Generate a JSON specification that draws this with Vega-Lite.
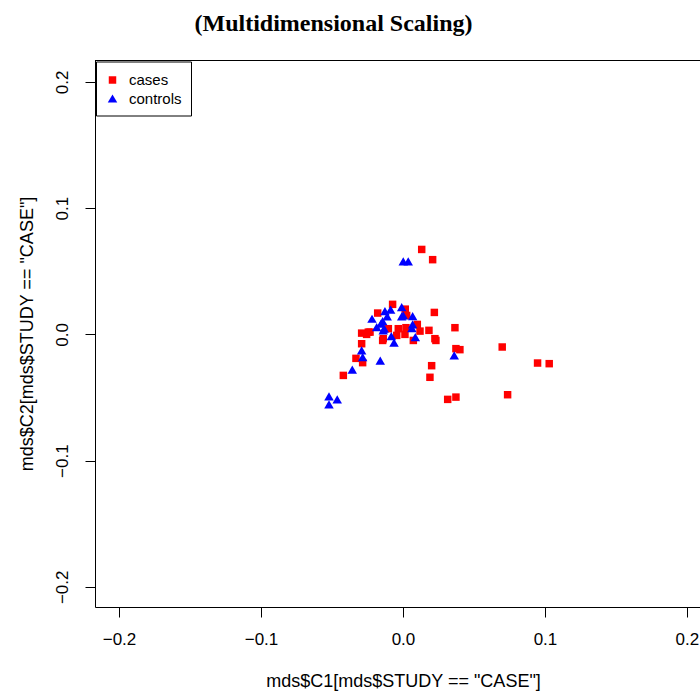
{
  "$schema": "https://vega.github.io/schema/vega-lite/v6.json",
  "width": 605,
  "height": 547,
  "autosize": {"type": "none"},
  "padding": {"left": 95, "top": 60, "right": 0, "bottom": 84},
  "background": "white",
  "title": {
    "text": "(Multidimensional Scaling)",
    "font": "Liberation Serif",
    "fontSize": 24,
    "fontWeight": "bold",
    "color": "black",
    "anchor": "middle",
    "dx": -64,
    "offset": 24
  },
  "config": {
    "view": {"stroke": null},
    "axis": {
      "grid": false,
      "domainColor": "black",
      "tickColor": "black",
      "labelColor": "black",
      "titleColor": "black",
      "labelFont": "Liberation Sans",
      "titleFont": "Liberation Sans",
      "labelFontSize": 17,
      "titleFontSize": 18,
      "titleFontWeight": "normal",
      "tickSize": 10
    }
  },
  "data": {
    "values": [
      {"x": 0.0132, "y": 0.0673, "group": "cases"},
      {"x": 0.0209, "y": 0.0592, "group": "cases"},
      {"x": -0.0073, "y": 0.0238, "group": "cases"},
      {"x": -0.0178, "y": 0.0169, "group": "cases"},
      {"x": 0.0016, "y": 0.0200, "group": "cases"},
      {"x": 0.0221, "y": 0.0174, "group": "cases"},
      {"x": 0.0026, "y": 0.0150, "group": "cases"},
      {"x": -0.0103, "y": 0.0045, "group": "cases"},
      {"x": -0.0033, "y": 0.0045, "group": "cases"},
      {"x": 0.0101, "y": 0.0079, "group": "cases"},
      {"x": 0.0120, "y": 0.0026, "group": "cases"},
      {"x": 0.0183, "y": 0.0032, "group": "cases"},
      {"x": 0.0021, "y": 0.0053, "group": "cases"},
      {"x": 0.0366, "y": 0.0053, "group": "cases"},
      {"x": -0.0291, "y": 0.0010, "group": "cases"},
      {"x": -0.0256, "y": 0.0000, "group": "cases"},
      {"x": -0.0232, "y": 0.0018, "group": "cases"},
      {"x": -0.0044, "y": -0.0008, "group": "cases"},
      {"x": 0.0014, "y": 0.0000, "group": "cases"},
      {"x": -0.0143, "y": -0.0048, "group": "cases"},
      {"x": 0.0073, "y": -0.0048, "group": "cases"},
      {"x": 0.0232, "y": -0.0048, "group": "cases"},
      {"x": -0.0291, "y": -0.0074, "group": "cases"},
      {"x": -0.0331, "y": -0.0190, "group": "cases"},
      {"x": -0.0284, "y": -0.0224, "group": "cases"},
      {"x": 0.0202, "y": -0.0248, "group": "cases"},
      {"x": 0.0373, "y": -0.0113, "group": "cases"},
      {"x": 0.0401, "y": -0.0121, "group": "cases"},
      {"x": 0.0699, "y": -0.0100, "group": "cases"},
      {"x": 0.0948, "y": -0.0227, "group": "cases"},
      {"x": 0.1030, "y": -0.0232, "group": "cases"},
      {"x": 0.0190, "y": -0.0340, "group": "cases"},
      {"x": 0.0737, "y": -0.0478, "group": "cases"},
      {"x": 0.0315, "y": -0.0515, "group": "cases"},
      {"x": 0.0373, "y": -0.0497, "group": "cases"},
      {"x": -0.0420, "y": -0.0325, "group": "cases"},
      {"x": -0.0139, "y": -0.0034, "group": "cases"},
      {"x": 0.0225, "y": -0.0034, "group": "cases"},
      {"x": -0.0244, "y": 0.0018, "group": "cases"},
      {"x": 0.0002, "y": 0.0578, "group": "controls"},
      {"x": 0.0037, "y": 0.0578, "group": "controls"},
      {"x": -0.0087, "y": 0.0196, "group": "controls"},
      {"x": -0.0127, "y": 0.0185, "group": "controls"},
      {"x": -0.0009, "y": 0.0216, "group": "controls"},
      {"x": -0.0009, "y": 0.0143, "group": "controls"},
      {"x": 0.0068, "y": 0.0145, "group": "controls"},
      {"x": -0.0218, "y": 0.0124, "group": "controls"},
      {"x": -0.0111, "y": 0.0143, "group": "controls"},
      {"x": -0.0143, "y": 0.0105, "group": "controls"},
      {"x": -0.0185, "y": 0.0058, "group": "controls"},
      {"x": -0.0139, "y": 0.0032, "group": "controls"},
      {"x": 0.0068, "y": 0.0079, "group": "controls"},
      {"x": 0.0063, "y": 0.0050, "group": "controls"},
      {"x": -0.0082, "y": -0.0013, "group": "controls"},
      {"x": -0.0063, "y": -0.0066, "group": "controls"},
      {"x": 0.0087, "y": -0.0021, "group": "controls"},
      {"x": -0.0291, "y": -0.0127, "group": "controls"},
      {"x": -0.0284, "y": -0.0180, "group": "controls"},
      {"x": -0.0160, "y": -0.0208, "group": "controls"},
      {"x": -0.0357, "y": -0.0280, "group": "controls"},
      {"x": 0.0361, "y": -0.0166, "group": "controls"},
      {"x": -0.0521, "y": -0.0491, "group": "controls"},
      {"x": -0.0463, "y": -0.0515, "group": "controls"},
      {"x": -0.0521, "y": -0.0554, "group": "controls"},
      {"x": -0.0155, "y": 0.0085, "group": "controls"},
      {"x": -0.0132, "y": 0.0045, "group": "controls"},
      {"x": 0.0002, "y": 0.0150, "group": "controls"}
    ]
  },
  "layer": [
    {
      "mark": {"type": "rule", "color": "black", "strokeWidth": 1},
      "encoding": {"y": {"datum": 0.217, "type": "quantitative"}}
    },
    {
      "mark": {"type": "point", "filled": true, "opacity": 1, "strokeWidth": 0},
      "encoding": {
        "x": {
          "field": "x",
          "type": "quantitative",
          "scale": {"domain": [-0.2169, 0.2092], "nice": false, "zero": false},
          "axis": {
            "values": [-0.2, -0.1, 0, 0.1, 0.2],
            "format": ".1f",
            "title": "mds$C1[mds$STUDY == \"CASE\"]",
            "labelPadding": 14,
            "labelFlush": false,
            "labelOverlap": false,
            "titleX": 308,
            "titleY": 74,
            "titleBaseline": "middle",
            "titleAnchor": null
          }
        },
        "y": {
          "field": "y",
          "type": "quantitative",
          "scale": {"domain": [-0.216, 0.2174], "nice": false, "zero": false},
          "axis": {
            "values": [-0.2, -0.1, 0, 0.1, 0.2],
            "format": ".1f",
            "title": "mds$C2[mds$STUDY == \"CASE\"]",
            "labelAngle": -90,
            "labelPadding": 14,
            "labelFlush": false,
            "labelOverlap": false,
            "titleX": -68,
            "titleY": 273.5,
            "titleBaseline": "middle",
            "titleAngle": -90
          }
        },
        "color": {
          "field": "group",
          "type": "nominal",
          "scale": {"domain": ["cases", "controls"], "range": ["#FF0000", "#0000FF"]},
          "legend": {
            "title": " ",
            "titleFontSize": 1,
            "titlePadding": 1,
            "orient": "none",
            "legendX": 1,
            "legendY": 1.5,
            "strokeColor": "black",
            "fillColor": "white",
            "padding": 9,
            "rowPadding": 2.5,
            "labelFont": "Liberation Sans",
            "labelFontSize": 15,
            "labelColor": "black",
            "labelOffset": 9,
            "symbolStrokeWidth": 0
          }
        },
        "shape": {
          "field": "group",
          "type": "nominal",
          "scale": {"domain": ["cases", "controls"], "range": ["square", "triangle-up"]}
        },
        "size": {
          "field": "group",
          "type": "nominal",
          "scale": {"domain": ["cases", "controls"], "range": [56, 90]}
        }
      }
    }
  ]
}
